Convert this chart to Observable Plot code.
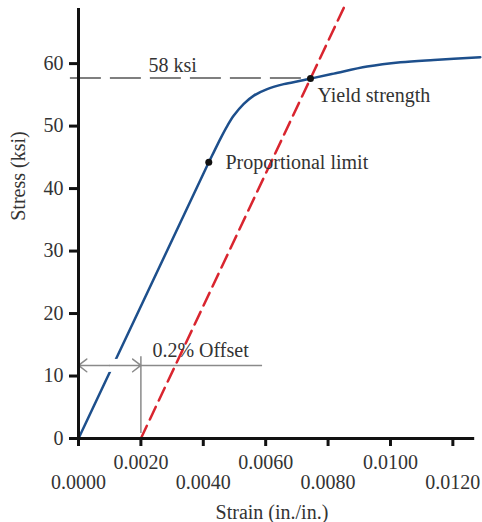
<!DOCTYPE html>
<html>
<head>
<meta charset="utf-8">
<script src="https://cdn.jsdelivr.net/npm/d3@7"></script>
<script src="https://cdn.jsdelivr.net/npm/@observablehq/plot@0.6"></script>
<style>
  body { margin: 0; background: #fff; }
  #chart { width: 482px; height: 522px; }
</style>
</head>
<body>
<div id="chart"></div>
<script>
// Elastic (linear) part of the stress-strain curve
const elasticStrain = [0, 0.004176];
const elasticStress = [0, 44.2];
// Plastic part of the curve
const plasticStrain = [0.004176, 0.004337, 0.004551, 0.004766, 0.004978, 0.005298, 0.005619, 0.006048, 0.00658, 0.007115, 0.007436, 0.008183, 0.009253, 0.01032, 0.01139, 0.01288];
const plasticStress = [44.2, 45.84, 48.0, 50.0, 51.68, 53.55, 54.88, 55.92, 56.72, 57.25, 57.6, 58.4, 59.52, 60.21, 60.59, 61.01];
// 0.2% offset line
const offsetStrain = [0.002, 0.00854];
const offsetStress = [0, 69.3];
// key points
const pointNames = ["Proportional limit", "Yield strength"];
const pointStrain = [0.004176, 0.007436];
const pointStress = [44.2, 57.6];
// yield stress level line
const yieldLevel = 57.7;
// offset dimension
const offsetArrowStress = 11.7;
const offsetArrowEnd = 0.0059;
const offsetTickTop = 13.1;
// annotation texts
const annotLabels = ["58 ksi", "Yield strength", "Proportional limit", "0.2% Offset"];
const annotStrain = [0.00224, 0.00766, 0.00471, 0.00237];
const annotStress = [58.6, 53.8, 43.15, 13.0];
// ticks
const xTicksUpper = [0.002, 0.006, 0.010];
const xTicksLower = [0, 0.004, 0.008, 0.012];
const yTicks = [0, 10, 20, 30, 40, 50, 60];
const xTitle = "Strain (in./in.)";
const yTitle = "Stress (ksi)";

const zip = (xs, ys) => xs.map((x, i) => ({x, y: ys[i]}));
const elastic = zip(elasticStrain, elasticStress);
const plastic = zip(plasticStrain, plasticStress);
const offset = zip(offsetStrain, offsetStress);
const points = pointNames.map((n, i) => ({name: n, x: pointStrain[i], y: pointStress[i]}));
const annots = annotLabels.map((t, i) => ({t, x: annotStrain[i], y: annotStress[i]}));

const blue = "#1d4f8c";
const red = "#d9252f";
const gray = "#8a8a8a";
const font = "Liberation Serif";
const fmt = d3.format(".4f");

const chart = Plot.plot({
  width: 482,
  height: 522,
  marginLeft: 78,
  marginRight: 0,
  marginTop: 5,
  marginBottom: 84,
  style: {fontFamily: font, fontSize: "20px", background: "white", color: "#222"},
  x: {domain: [0, 0.01295], label: null},
  y: {domain: [0, 69.3], label: null},
  marks: [
    // blue curve
    Plot.line(elastic, {x: "x", y: "y", stroke: blue, strokeWidth: 2.5}),
    Plot.line(plastic, {x: "x", y: "y", stroke: blue, strokeWidth: 2.5, curve: "catmull-rom"}),
    // white halo where the dimension line crosses the curve
    Plot.ruleY([offsetArrowStress], {x1: 0.0009, x2: 0.00135, stroke: "white", strokeWidth: 13}),
    // red offset line
    Plot.line(offset, {x: "x", y: "y", stroke: red, strokeWidth: 2.5, strokeDasharray: "14,7"}),
    // yield level dashed line
    Plot.ruleY([yieldLevel], {x1: -0.00026, x2: pointStrain[1], stroke: "#555", strokeWidth: 1.5, strokeDasharray: "31,9"}),
    // 0.2% offset dimension
    Plot.arrow([{x1: 0.001, x2: 0}, {x1: 0.001, x2: offsetStrain[0]}], {
      x1: "x1", x2: "x2", y1: () => offsetArrowStress, y2: () => offsetArrowStress,
      stroke: gray, strokeWidth: 1.5, headLength: 11, headAngle: 75
    }),
    Plot.ruleY([offsetArrowStress], {x1: offsetStrain[0], x2: offsetArrowEnd, stroke: gray, strokeWidth: 1.5}),
    Plot.ruleX([offsetStrain[0]], {y1: 0.8, y2: offsetTickTop, stroke: gray, strokeWidth: 1.5}),
    // points
    Plot.dot(points, {x: "x", y: "y", r: 3.5, fill: "#111", stroke: null}),
    // annotations
    Plot.text(annots, {x: "x", y: "y", text: "t", textAnchor: "start", lineAnchor: "bottom", fill: "#333", fontSize: 20}),
    // axes lines
    Plot.ruleX([0], {y1: 0, y2: 68.8, stroke: "#111", strokeWidth: 3}),
    Plot.ruleY([0], {x1: 0, x2: 0.0127, stroke: "#111", strokeWidth: 3}),
    // axes ticks and labels
    Plot.axisY({ticks: yTicks, tickSize: 9, tickPadding: 6, strokeWidth: 3, stroke: "#111", fill: "#333", fontSize: 20, label: null}),
    Plot.axisX({ticks: xTicksUpper, tickSize: 8, tickPadding: 8, strokeWidth: 3, stroke: "#111", fill: "#333", fontSize: 20, tickFormat: fmt, label: null}),
    Plot.axisX({ticks: xTicksLower, tickSize: 8, tickPadding: 28, strokeWidth: 3, stroke: "#111", fill: "#333", fontSize: 20, tickFormat: fmt, label: null}),
    // axis titles
    Plot.text([xTitle], {x: 0.0062, frameAnchor: "bottom", dy: 74, text: d => d, fill: "#333", fontSize: 20, lineAnchor: "middle", textAnchor: "middle"}),
    Plot.text([yTitle], {y: 42, frameAnchor: "left", dx: -60, rotate: -90, text: d => d, fill: "#333", fontSize: 20, lineAnchor: "middle", textAnchor: "middle"})
  ]
});
document.getElementById("chart").appendChild(chart);
</script>
</body>
</html>
